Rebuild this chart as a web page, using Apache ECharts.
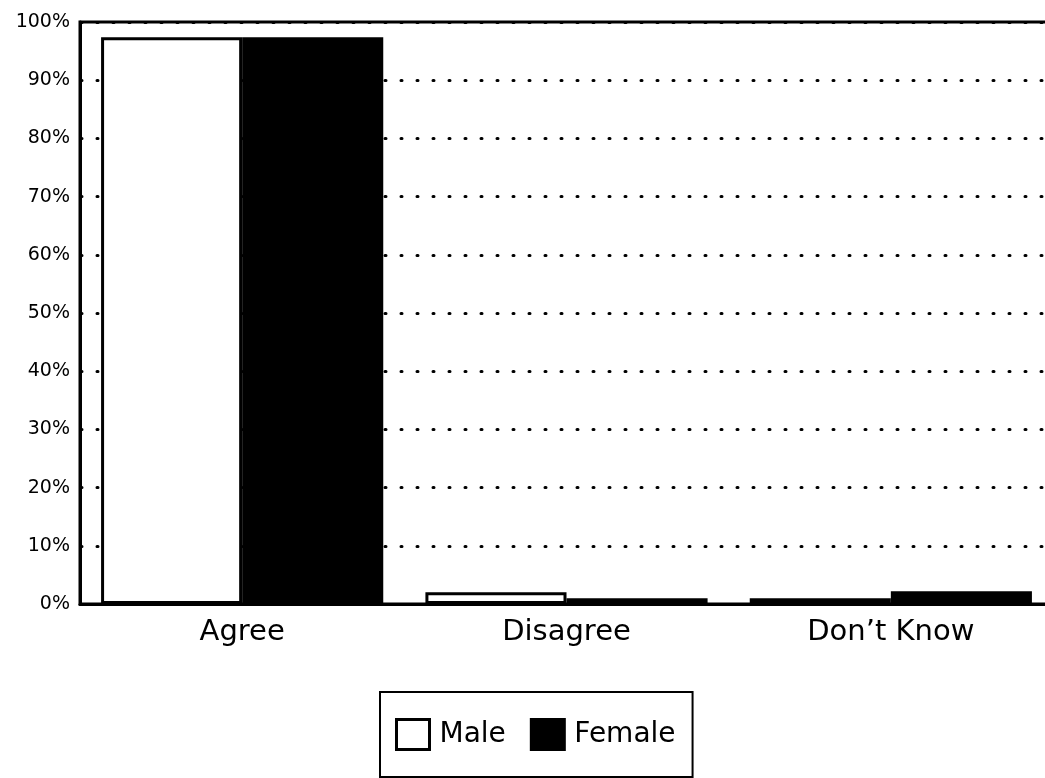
<!DOCTYPE html>
<html>
<head>
<meta charset="utf-8">
<script src="https://cdn.jsdelivr.net/npm/echarts@6/dist/echarts.min.js"></script>
<style>
  html, body { margin: 0; padding: 0; background: #fff; }
  #chart { width: 1045px; height: 778px; }
</style>
</head>
<body>
<div id="chart"></div>
<script>
// answers by gender, percent
const categories = ['Agree', 'Disagree', 'Don\u2019t Know']
const male = [97.4, 2, 1]
const female = [97.4, 1, 2.2]
const yTicks = [0, 10, 20, 30, 40, 50, 60, 70, 80, 90, 100]

const chart = echarts.init(document.getElementById('chart'))
const option = {
  animation: false,
  textStyle: { fontFamily: 'DejaVu Sans, sans-serif', color: '#000' },
  grid: {
    left: 80,
    width: 973,
    top: 22,
    height: 582,
    outerBoundsMode: 'none',
    containLabel: false,
    show: true,
    borderColor: '#000',
    borderWidth: 3
  },
  legend: {
    left: 380,
    top: 692,
    orient: 'horizontal',
    borderColor: '#000',
    borderWidth: 2,
    padding: [26, 17, 26, 15],
    itemWidth: 33,
    itemHeight: 30,
    itemGap: 24,
    textStyle: { fontSize: 28, color: '#000', padding: [0, 0, 0, 5] },
    data: [
      { name: 'Male', icon: 'rect', itemStyle: { color: '#fff', borderColor: '#000', borderWidth: 3 } },
      { name: 'Female', icon: 'rect', itemStyle: { color: '#000', borderColor: '#000', borderWidth: 3 } }
    ]
  },
  xAxis: {
    type: 'category',
    data: categories,
    axisLine: { lineStyle: { color: '#000', width: 3 } },
    axisTick: { show: false },
    axisLabel: { fontSize: 29, color: '#000', margin: 14 }
  },
  yAxis: {
    type: 'value',
    min: 0,
    max: 100,
    interval: 10,
    axisLine: { show: true, lineStyle: { color: '#000', width: 3 } },
    axisTick: { show: false },
    axisLabel: {
      fontSize: 19,
      color: '#000',
      margin: 10,
      formatter: v => yTicks.includes(v) ? v + '%' : ''
    },
    splitLine: {
      show: true,
      lineStyle: { color: '#000', width: 3, type: [1, 15], cap: 'round', dashOffset: -17 }
    }
  },
  series: [
    {
      name: 'Male',
      type: 'bar',
      data: male,
      barGap: '0%',
      barCategoryGap: '13%',
      itemStyle: { color: '#fff', borderColor: '#000', borderWidth: 3 }
    },
    {
      name: 'Female',
      type: 'bar',
      data: female,
      itemStyle: { color: '#000', borderColor: '#000', borderWidth: 3 }
    }
  ]
}
chart.setOption(option)
</script>
</body>
</html>
